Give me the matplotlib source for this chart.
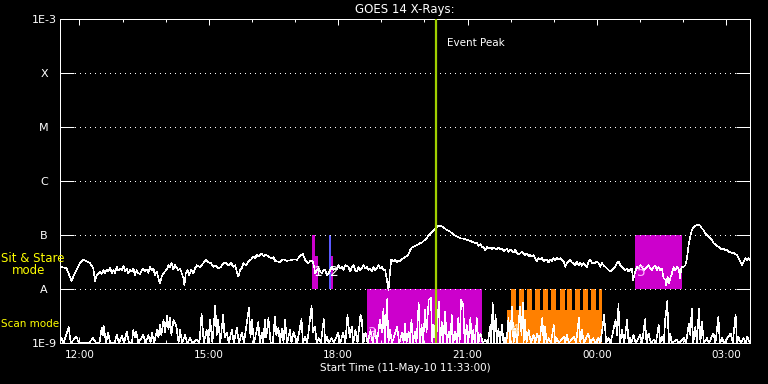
import numpy as np
import matplotlib
matplotlib.use("Agg")
import matplotlib.pyplot as plt
from matplotlib.patches import Rectangle
from matplotlib.ticker import NullLocator

# time axis: minutes after 11-May-10 11:33:00
# GOES 14 flux (sit & stare band): (minute, log10 W/m^2)
goes_pts = [
    (0.0, -7.59), (4.6, -7.60), (9.3, -7.62), (13.9, -7.78), (16.2, -7.85), (18.6, -7.77),
    (23.2, -7.64), (27.8, -7.52), (32.5, -7.45), (37.1, -7.49), (41.8, -7.52), (46.4, -7.62),
    (48.7, -7.85), (51.0, -7.74), (53.4, -7.71), (55.7, -7.68), (58.0, -7.72), (60.3, -7.65),
    (62.6, -7.71), (65.0, -7.64), (67.3, -7.68), (69.6, -7.60), (71.9, -7.71), (74.2, -7.65),
    (76.6, -7.70), (78.9, -7.59), (81.2, -7.66), (83.5, -7.62), (85.8, -7.65), (88.2, -7.57),
    (90.5, -7.68), (92.8, -7.62), (95.1, -7.71), (97.4, -7.65), (99.8, -7.68), (102.1, -7.62),
    (104.4, -7.74), (106.7, -7.65), (109.0, -7.71), (111.4, -7.72), (113.7, -7.65), (116.0, -7.62),
    (118.3, -7.68), (120.6, -7.64), (123.0, -7.70), (125.3, -7.59), (127.6, -7.65), (129.9, -7.62),
    (132.2, -7.74), (134.6, -7.68), (136.9, -7.80), (139.2, -7.90), (141.5, -7.77), (143.8, -7.71),
    (148.5, -7.64), (150.8, -7.56), (153.1, -7.59), (155.4, -7.52), (157.8, -7.64),
    (160.1, -7.56), (164.7, -7.65), (167.1, -7.62), (169.4, -7.71), (171.7, -7.80), (173.1, -7.93),
    (174.9, -7.71), (177.7, -7.65), (179.6, -7.74), (182.4, -7.65), (185.6, -7.71), (187.9, -7.62),
    (190.3, -7.56), (194.9, -7.59), (199.5, -7.52), (202.8, -7.46), (206.5, -7.51), (210.2, -7.52),
    (213.5, -7.59), (216.7, -7.56), (220.4, -7.62), (223.7, -7.59), (227.4, -7.52), (230.6, -7.51),
    (234.3, -7.56), (238.1, -7.52), (241.3, -7.59), (243.6, -7.56), (245.9, -7.68), (248.3, -7.77),
    (250.6, -7.65), (252.9, -7.62), (255.2, -7.52), (258.5, -7.56), (262.2, -7.49), (265.9, -7.45),
    (269.1, -7.40), (271.5, -7.43), (273.8, -7.37), (277.0, -7.40), (279.8, -7.34), (283.1, -7.39),
    (286.3, -7.36), (290.0, -7.40), (293.7, -7.43), (297.0, -7.41), (299.3, -7.48), (303.0, -7.49),
    (306.3, -7.51), (308.6, -7.46), (312.3, -7.45), (315.5, -7.48),
    (320.2, -7.47), (324.8, -7.45), (329.5, -7.46), (334.1, -7.39), (337.8, -7.35), (341.1, -7.46),
    (345.7, -7.52), (349.0, -7.47), (351.8, -7.49), (353.6, -7.59), (355.0, -7.71), (357.3, -7.65),
    (359.6, -7.62), (362.0, -7.68), (364.3, -7.71), (366.6, -7.65), (368.9, -7.65), (371.2, -7.74),
    (373.6, -7.71), (375.9, -7.65), (378.2, -7.59), (380.5, -7.65), (382.8, -7.62), (385.2, -7.64),
    (387.5, -7.56), (389.8, -7.62), (392.1, -7.59), (394.4, -7.65), (396.8, -7.56), (401.4, -7.59),
    (403.7, -7.68), (406.0, -7.59), (408.4, -7.56), (410.7, -7.65), (413.0, -7.68), (415.3, -7.59),
    (417.6, -7.65), (420.0, -7.62), (422.3, -7.56), (424.6, -7.62), (426.9, -7.59), (429.2, -7.65),
    (431.6, -7.62), (433.9, -7.68), (436.2, -7.59), (438.5, -7.65), (440.8, -7.62), (443.2, -7.56),
    (445.5, -7.62), (447.8, -7.59), (450.1, -7.65), (452.4, -7.65), (454.8, -7.83), (457.1, -8.02),
    (459.4, -7.65), (460.8, -7.45), (464.0, -7.49), (466.4, -7.46), (468.7, -7.51), (471.0, -7.47),
    (473.3, -7.49), (475.6, -7.45), (478.0, -7.43), (480.3, -7.40),
    (482.6, -7.40), (484.9, -7.36), (487.2, -7.28), (489.6, -7.23), (491.9, -7.22), (494.2, -7.20),
    (496.5, -7.19), (498.8, -7.17), (501.2, -7.15), (503.5, -7.14), (505.8, -7.11), (508.1, -7.09),
    (510.4, -7.06), (512.8, -7.01), (515.1, -6.97), (517.4, -6.95), (519.7, -6.91), (522.0, -6.88),
    (524.4, -6.85), (526.7, -6.83), (529.0, -6.83), (533.6, -6.86), (538.3, -6.91), (542.9, -6.94),
    (547.6, -6.99), (552.2, -7.03), (556.8, -7.06), (561.5, -7.07), (566.1, -7.09), (570.8, -7.11),
    (575.4, -7.14), (580.0, -7.15), (582.4, -7.20), (584.7, -7.17), (587.0, -7.22), (589.3, -7.23),
    (591.6, -7.28), (594.0, -7.22), (596.3, -7.25), (598.6, -7.23), (600.9, -7.26), (603.2, -7.23),
    (605.6, -7.25), (607.9, -7.26), (610.2, -7.23), (612.5, -7.27), (614.8, -7.25), (617.2, -7.30),
    (619.5, -7.28), (621.8, -7.26), (624.1, -7.31), (626.4, -7.27), (628.8, -7.30), (631.1, -7.32),
    (633.4, -7.28), (635.7, -7.34), (638.0, -7.36),
    (640.3, -7.34), (642.6, -7.31), (644.9, -7.34), (647.3, -7.37), (649.6, -7.34), (651.9, -7.39),
    (654.2, -7.37), (656.5, -7.40), (658.9, -7.37), (661.2, -7.43), (663.5, -7.49), (665.8, -7.43),
    (668.1, -7.45), (670.5, -7.43), (672.8, -7.49), (675.1, -7.46), (677.4, -7.45), (679.7, -7.51),
    (682.1, -7.45), (684.4, -7.48), (686.7, -7.43), (689.0, -7.46), (691.3, -7.43), (693.7, -7.45),
    (696.0, -7.43), (698.3, -7.46), (700.6, -7.49), (702.9, -7.59), (705.3, -7.52), (707.6, -7.49),
    (709.9, -7.46), (712.2, -7.51), (714.5, -7.52), (716.9, -7.56), (719.2, -7.49), (721.5, -7.56),
    (723.8, -7.52), (726.1, -7.57), (728.5, -7.52), (730.8, -7.56), (733.1, -7.59), (735.4, -7.49),
    (737.7, -7.46), (740.1, -7.52), (742.4, -7.51), (744.7, -7.52), (747.0, -7.49), (749.3, -7.52),
    (751.7, -7.59), (754.0, -7.52), (756.3, -7.56), (758.6, -7.59), (760.9, -7.62), (763.3, -7.65),
    (765.6, -7.68), (767.9, -7.65), (770.2, -7.62), (772.5, -7.59), (774.9, -7.52), (777.2, -7.49),
    (779.5, -7.56), (781.8, -7.59), (784.1, -7.62), (786.5, -7.65), (788.8, -7.62), (791.1, -7.68),
    (793.4, -7.65), (795.7, -7.62), (797.1, -7.83), (800.4, -7.68), (802.7, -7.59), (805.0, -7.62),
    (807.3, -7.56), (809.6, -7.59), (812.0, -7.65), (814.3, -7.62), (816.6, -7.59), (818.9, -7.56),
    (821.2, -7.62), (823.6, -7.65), (825.9, -7.59), (828.2, -7.57), (830.5, -7.65), (832.8, -7.59),
    (835.2, -7.65), (837.5, -7.62), (839.8, -7.80), (842.1, -7.83), (843.5, -7.93), (845.4, -7.77),
    (846.8, -7.90), (849.1, -7.80), (851.4, -7.71), (853.7, -7.59), (856.0, -7.65), (858.4, -7.59),
    (860.7, -7.62), (863.0, -7.80), (863.9, -7.65), (865.3, -7.59), (867.6, -7.59), (870.0, -7.56),
    (872.3, -7.43), (874.6, -7.19), (876.9, -7.03), (879.2, -6.91), (881.6, -6.86), (883.9, -6.83),
    (886.2, -6.81), (888.5, -6.81), (890.8, -6.83), (893.2, -6.88), (895.5, -6.91), (897.8, -6.97),
    (900.1, -7.00), (902.4, -7.03), (904.8, -7.06), (907.1, -7.09), (909.4, -7.15), (911.7, -7.17),
    (914.0, -7.20), (916.4, -7.22), (918.7, -7.25), (921.0, -7.27), (923.3, -7.25), (925.6, -7.29),
    (928.0, -7.28), (930.3, -7.31), (932.6, -7.31), (934.9, -7.34), (937.2, -7.33), (939.6, -7.35),
    (941.9, -7.37), (944.2, -7.43), (946.5, -7.49), (948.8, -7.56), (951.2, -7.49), (953.5, -7.43),
    (955.8, -7.46), (958.1, -7.43), (960.0, -7.46),
]

# scan mode curve (log10), F = bottom of the plot
F = -9.0
scan_t = [0, 2, 5, 10, 12, 15, 23, 26, 40, 46,
          50, 55, 58, 60, 61, 64, 67, 70, 76, 79,
          82, 86, 89, 93, 96, 100, 102, 104, 106, 109,
          116, 119, 123, 126, 128, 131, 135, 137, 139, 141,
          144, 146, 149, 151, 153, 155, 158, 160, 162, 165,
          167, 170, 174, 177, 181, 184, 190, 194, 197, 200,
          204, 206, 209, 212, 216, 218, 220, 223, 227, 229,
          232, 235, 239, 242, 246, 249, 253, 256, 260, 263,
          265, 267, 270, 276, 278, 281, 283, 285, 287, 290,
          293, 296, 299, 301, 304, 306, 309, 311, 313, 316,
          320, 322, 325, 327, 330, 336, 338, 341, 344, 350,
          352, 355, 357, 360, 363, 367, 369, 371, 374, 378,
          381, 387, 390, 394, 397, 400, 403, 406, 408, 411,
          414, 418, 420, 422, 425, 428, 432, 435, 438, 441,
          445, 448, 450, 452, 455, 457, 459, 462, 469, 472,
          476, 478, 480, 482, 485, 487, 489, 491, 494, 496,
          499, 501, 503, 505, 508, 510, 513, 516, 518, 520,
          523, 527, 529, 531, 533, 536, 538, 541, 543, 545,
          547, 550, 552, 554, 556, 558, 561, 563, 566, 568,
          571, 573, 575, 577, 580, 582, 585, 588, 592, 595,
          599, 600, 602, 604, 606, 608, 610, 612, 615, 617,
          619, 621, 624, 626, 629, 631, 633, 636, 640, 642,
          644, 645, 647, 649, 652, 655, 659, 661, 664, 667,
          671, 673, 675, 677, 680, 683, 687, 689, 691, 694,
          701, 703, 705, 708, 715, 718, 722, 724, 726, 729,
          735, 738, 742, 745, 749, 752, 757, 760, 763, 766,
          773, 775, 777, 779, 782, 785, 789, 791, 793, 795,
          798, 801, 807, 810, 814, 816, 819, 822, 826, 829,
          833, 835, 838, 840, 842, 845, 847, 849, 851, 858,
          861, 868, 871, 875, 877, 879, 881, 884, 886, 889,
          891, 893, 896, 900, 903, 909, 912, 916, 918, 921,
          924, 933, 936, 940, 942, 944, 947, 951, 954, 956,
          958, 960]
scan_log = [-8.95, -8.91, F, -8.80, -8.70, F, -8.88, F, F, -8.91,
            F, F, -8.71, -8.85, -8.69, F, -8.81, F, F, -8.85,
            F, -8.87, F, -8.79, F, F, -8.76, -8.90, -8.79, F,
            -8.85, F, -8.85, F, -8.81, F, -8.76, -8.90, -8.67, -8.85,
            -8.57, -8.80, -8.50, -8.75, -8.54, -8.85, -8.57, -8.63, -8.70, F,
            -8.76, F, -8.85, F, -8.91, F, -8.94, F, -8.45, F,
            -8.76, F, -8.57, F, -8.31, -8.85, -8.57, F, -8.48, -8.90,
            -8.81, F, -8.76, F, -8.72, F, -8.81, F, -8.63, -8.34,
            -8.90, -8.57, F, -8.61, F, -8.81, F, -8.57, -8.90, -8.54,
            F, F, -8.51, -8.85, -8.72, F, -8.73, F, -8.57, F,
            -8.76, F, -8.79, -8.88, F, -8.56, F, -8.88, F, -8.31,
            -8.80, -8.70, F, -8.91, F, -8.56, F, -8.88, F, -8.91,
            F, -8.81, F, -8.81, F, -8.48, -8.90, -8.70, F, -8.76,
            F, -8.48, -8.57, F, -8.81, F, -8.76, F, -8.76, F,
            -8.57, -8.80, -8.36, F, -8.19, F, -8.76, F, -8.70, F,
            -8.81, F, -8.64, F, -8.79, F, -8.57, F, -8.79, F,
            -8.26, F, -8.67, F, -8.39, -8.80, -8.20, -8.17, F, -8.67,
            F, -8.24, F, -8.61, F, -8.42, F, -8.79, F, -8.48,
            F, -8.79, F, -8.54, F, -8.20, -8.30, F, -8.67, F,
            -8.54, F, -8.76, F, -8.54, F, -8.82, F, -8.94, F,
            -8.67, F, -8.26, F, -8.48, F, -8.73, F, -8.67, F,
            -8.91, F, -8.54, F, -8.33, F, -8.73, F, -8.33, -8.85,
            -8.26, F, -8.57, F, -8.76, F, -8.85, F, -8.82, F,
            -8.54, F, -8.70, F, -8.91, F, -8.67, F, -8.91, F,
            -8.88, F, -8.85, F, -8.88, F, -8.54, F, -8.76, F,
            -8.82, F, -8.91, F, -8.91, F, -8.48, F, -8.91, F,
            -8.57, -8.85, -8.28, F, -8.76, F, -8.57, F, -8.91, F,
            -8.85, F, -8.85, F, -8.56, F, -8.82, F, -8.94, F,
            -8.67, F, -8.88, F, -8.57, -8.22, F, -8.82, F, -8.94,
            F, -8.91, F, -8.64, -8.85, -8.36, F, -8.70, F, -8.36,
            F, -8.61, F, -8.91, F, -8.82, F, -8.51, F, -8.91,
            F, -8.82, F, -8.47, F, -8.88, F, -8.91, F, -8.88,
            -8.94, F]

# observation windows: start/end (min), bottom/top (log10)
obs_t0 = [350, 355, 374.5, 377, 427, 622, 800]
obs_t1 = [355, 359, 377, 380, 587, 754, 865]
obs_lo = [-8, -8, -8, -8, -9, -9, -8]
obs_hi = [-7, -7.38, -7, -7.38, -8, -8.39, -7]
obs_col = ["#cc00cc", "#cc00cc", "#5a5aff", "#cc00cc", "#cc00cc", "#ff8000", "#cc00cc"]
# orange comb above window 4
tooth_t0 = [628, 639, 650, 661, 672, 683, 695, 706, 717, 728, 739, 750]
tooth_t1 = [635, 646, 657, 668, 679, 690, 702, 713, 724, 735, 746, 754]

num_text = ["1", "2", "3", "4", "5"]
num_t = [353, 376, 429, 626, 803]
num_log = [-7.69, -7.69, -8.81, -8.76, -7.68]
num_col = ["white", "white", "#ffb0ff", "#ffe0b0", "#ffb0ff"]

level_vals = [1e-3, 1e-4, 1e-5, 1e-6, 1e-7, 1e-8, 1e-9]
level_labels = ["1E-3", "X", "M", "C", "B", "A", "1E-9"]
hour_t = [27, 207, 387, 567, 747, 927]
hour_labels = ["12:00", "15:00", "18:00", "21:00", "00:00", "03:00"]
minor_t = [87, 147, 267, 327, 447, 507, 627, 687, 807, 867]
peak_t = 523

goes = np.array(goes_pts)

fig = plt.figure(figsize=(7.68, 3.84), dpi=100, facecolor="black")
ax = fig.add_axes([60 / 768, 41 / 384, 690 / 768, 324 / 384], facecolor="black")
ax.set_yscale("log")
ax.set_xlim(0, 960)
ax.set_ylim(1e-9, 1e-3)

for t0, t1, lo, hi, c in zip(obs_t0, obs_t1, obs_lo, obs_hi, obs_col):
    ax.add_patch(Rectangle((t0, 10 ** lo), t1 - t0, 10 ** hi - 10 ** lo,
                           color=c, lw=0, antialiased=False, zorder=1))
for t0, t1 in zip(tooth_t0, tooth_t1):
    ax.add_patch(Rectangle((t0, 10 ** -8.39), t1 - t0, 1e-8 - 10 ** -8.39,
                           color="#ff8000", lw=0, antialiased=False, zorder=1))

for lv in level_vals[1:-1]:
    ax.axhline(lv, color="white", lw=0.72, ls=(0, (1, 5)), antialiased=False, zorder=2)

ax.plot(goes[:, 0], 10 ** goes[:, 1], color="white", lw=0.4, antialiased=False, zorder=3)
ax.plot(scan_t, 10 ** np.array(scan_log), color="white", lw=0.4, antialiased=False, zorder=3)

for s, t, v, c in zip(num_text, num_t, num_log, num_col):
    ax.text(t, 10 ** v, s, color=c, fontsize=10, ha="left", va="center", zorder=5)

ax.axvline(peak_t, color="#a0d000", lw=1.6, zorder=4)
ax.text(539, 10 ** -3.44, "Event Peak", color="white", fontsize=7.5, va="center")

ax.set_yticks(level_vals, level_labels)
ax.yaxis.set_minor_locator(NullLocator())
ax.tick_params(axis="y", which="major", direction="in", length=10, width=0.72,
               colors="white", left=True, right=True, labelsize=8, pad=11.5)
for lbl in ax.get_yticklabels():
    lbl.set_horizontalalignment("center")

ax.set_xticks(hour_t, hour_labels)
ax.set_xticks(minor_t, minor=True)
ax.tick_params(axis="x", which="major", direction="in", length=4.5, width=0.72,
               colors="white", top=True, bottom=True, labelsize=7.5, pad=5)
ax.tick_params(axis="x", which="minor", direction="in", length=2.5, width=0.72,
               colors="white", top=True, bottom=True)
for sp in ax.spines.values():
    sp.set_color("white")
    sp.set_linewidth(0.72)

ax.set_title("GOES 14 X-Rays:", color="white", fontsize=8.5, pad=4)
fig.text(405 / 768, 1 - 368 / 384, "Start Time (11-May-10 11:33:00)", color="white",
         fontsize=7.5, ha="center", va="center")
fig.text(1 / 768, 1 - 259 / 384, "Sit & Stare", color="yellow", fontsize=8.5, va="center")
fig.text(12 / 768, 1 - 271 / 384, "mode", color="yellow", fontsize=8.5, va="center")
fig.text(1 / 768, 1 - 324 / 384, "Scan mode", color="yellow", fontsize=7.5, va="center")

fig.savefig("out.png", dpi=100, facecolor="black")
